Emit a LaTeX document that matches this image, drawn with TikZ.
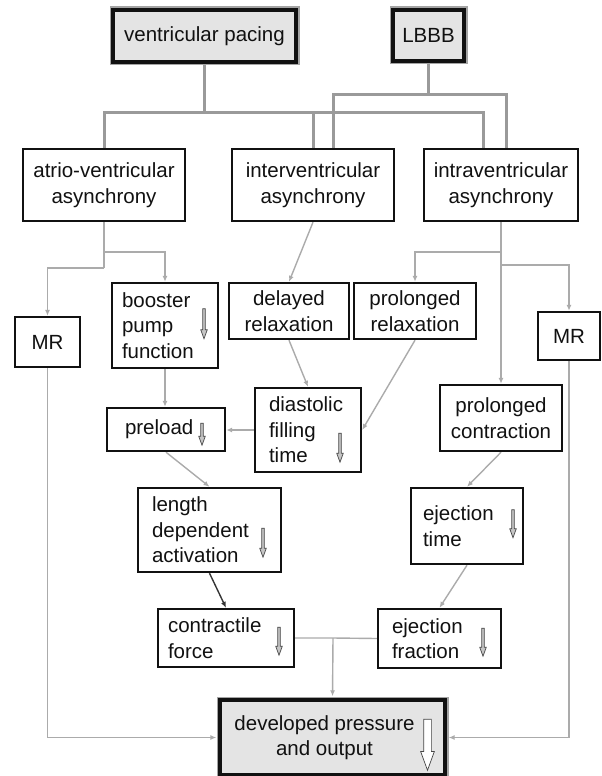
\documentclass[tikz,border=0pt]{standalone}
\usepackage{fontspec}
\setmainfont{Liberation Sans}
\usetikzlibrary{arrows.meta,shapes.arrows,backgrounds}
\definecolor{ink}{HTML}{111111}
\definecolor{wire}{HTML}{9A9A9A}
\definecolor{thinwire}{HTML}{ABABAB}
\definecolor{shade}{HTML}{E4E4E4}
\definecolor{halo}{HTML}{A4A4A4}
\definecolor{glyph}{HTML}{454545}
\tikzset{
  every node/.style={font=\fontsize{20.5}{25.5}\selectfont,text=ink},
  box/.style={draw=ink,line width=2.4pt,fill=white,inner sep=0pt,align=center},
  lbox/.style={box,align=left},
  keybox/.style={box,fill=shade,line width=3.4pt,preaction={draw=halo,line width=7pt}},
  trunk/.style={draw=wire,line width=3pt},
  flow/.style={draw=thinwire,line width=1.4pt},
  flowarr/.style={flow,-{Latex[length=6pt,width=5pt]}},
  darkarr/.style={draw=ink!85,line width=1.4pt,-{Latex[length=6pt,width=5pt]}},
  dnarrow/.style={single arrow,draw=glyph,fill=gray!45,line width=0.7pt,rotate=-90,
    inner xsep=0pt,inner ysep=0.9pt,single arrow head extend=2pt,
    single arrow head indent=0pt,single arrow tip angle=40}
}
\begin{document}
\begin{tikzpicture}[x=1pt,y=-1pt]
  \useasboundingbox (0,0) rectangle (602,776);

  % causes
  \node[keybox,minimum width=183,minimum height=52] (vp) at (204.5,36) {ventricular pacing};
  \node[keybox,minimum width=71,minimum height=51] (lbbb) at (428.5,35.5) {LBBB};

  % asynchronies
  \node[box,minimum width=162,minimum height=72] (atrio) at (104,185) {atrio-ventricular\\asynchrony};
  \node[box,minimum width=162,minimum height=72] (inter) at (313,185) {interventricular\\asynchrony};
  \node[box,minimum width=154,minimum height=72] (intra) at (501,185) {intraventricular\\asynchrony};

  \node[box,minimum width=65,minimum height=50] (mrl) at (47.5,342) {MR};
  \node[lbox,minimum width=106,minimum height=85,text width=86] (booster) at (165,325.5) {booster\\pump\\function};
  \node[box,minimum width=120,minimum height=56] (delayed) at (289,311) {delayed\\relaxation};
  \node[box,minimum width=122,minimum height=56] (prelax) at (415,311) {prolonged\\relaxation};
  \node[box,minimum width=62,minimum height=48] (mrr) at (569,336) {MR};

  \node[lbox,minimum width=118,minimum height=43,text width=82] (preload) at (166,429.5) {preload};
  \node[lbox,minimum width=106,minimum height=84,text width=78] (dft) at (308,430) {diastolic\\filling\\time};
  \node[box,minimum width=122,minimum height=66] (pcontr) at (501,418) {prolonged\\contraction};

  \node[lbox,minimum width=143,minimum height=84,text width=115] (length) at (209.5,530) {length\\dependent\\activation};
  \node[lbox,minimum width=112,minimum height=76,text width=88] (ejt) at (467,526) {ejection\\time};

  \node[lbox,minimum width=136,minimum height=58,text width=116] (contr) at (226,638) {contractile\\force};
  \node[lbox,minimum width=123,minimum height=59,text width=95] (ejf) at (439.5,638.5) {ejection\\fraction};

  \node[keybox,minimum width=225,minimum height=75] (dev) at (332.5,737.5) {developed pressure\hspace*{16pt}\\and output\hspace*{16pt}};

  % decrease marks
  \node[dnarrow,minimum height=30] (bparr) at (204,322) {};
  \node[dnarrow,minimum height=22] (plarr) at (202,432.5) {};
  \node[dnarrow,minimum height=29] (dftarr) at (340,446) {};
  \node[dnarrow,minimum height=29] (lenarr) at (263,541) {};
  \node[dnarrow,minimum height=28] (ejtarr) at (513,522) {};
  \node[dnarrow,minimum height=28] (contrarr) at (279,639.5) {};
  \node[dnarrow,minimum height=28] (ejfarr) at (483,640.5) {};
  \node[dnarrow,minimum height=51,inner ysep=3.5pt,single arrow head extend=3pt,fill=white] (devarr) at (427.5,739.5) {};

  \begin{scope}[on background layer]
    \coordinate (vpbus) at (0,112);
    \coordinate (lbbus) at (0,94);
    \draw[trunk] (vp.south) -- (vp.south |- vpbus);
    \draw[trunk] (atrio.north) -- (atrio.north |- vpbus) -- ([xshift=-18pt]intra.north |- vpbus) -- ([xshift=-18pt]intra.north);
    \draw[trunk] (inter.north) -- (inter.north |- vpbus);
    \draw[trunk] (lbbb.south) -- (lbbb.south |- lbbus);
    \draw[trunk] ([xshift=20pt]inter.north) -- ([xshift=20pt]inter.north |- lbbus) -- ([xshift=5pt]intra.north |- lbbus) -- ([xshift=5pt]intra.north);

    \coordinate (avj) at (104,252);
    \coordinate (avk) at (104,268);
    \draw[flow] (atrio.south) -- (avk);
    \draw[flowarr] (avj) -| (booster.north);
    \draw[flowarr] (avk) -| (mrl.north);
    \draw[flowarr] (inter.south) -- (delayed.north);
    \coordinate (ivj) at (501,252);
    \coordinate (ivk) at (501,265);
    \draw[flowarr] (intra.south) -- (pcontr.north);
    \draw[flowarr] (ivj) -| (prelax.north);
    \draw[flowarr] (ivk) -| (mrr.north);

    \draw[flowarr] (booster.south) -- (booster.south |- preload.north);
    \draw[flowarr] (delayed.south) -- (dft.north);
    \draw[flowarr] (prelax.south) -- (dft.east);
    \draw[flowarr] (dft.west) -- (dft.west -| preload.east);
    \draw[flowarr] (preload.south) -- (length.north);
    \draw[darkarr] (length.south) -- (contr.north);
    \draw[flowarr] (pcontr.south) -- (ejt.north);
    \draw[flowarr] (ejt.south) -- (ejf.north);

    \coordinate (outj) at (333,638);
    \draw[flow] (contr.east) -- (outj) -- (ejf.west);
    \draw[flowarr,shorten >=2pt] (outj) -- (dev.north);
    \draw[flowarr,shorten >=2pt] (mrl.south) |- (dev.west);
    \draw[flowarr,shorten >=2pt] (mrr.south) |- (dev.east);
  \end{scope}
\end{tikzpicture}
\end{document}
